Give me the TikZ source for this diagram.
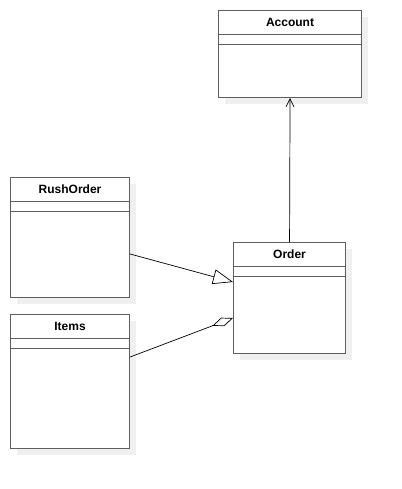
\documentclass[tikz,border=0pt]{standalone}
\usepackage{fontspec}
\setmainfont{Liberation Sans}
\usetikzlibrary{arrows.meta,calc}
\begin{document}
\begin{tikzpicture}[x=1pt,y=-1pt,
  cls/.style={draw=boxgray,line width=1.1pt,fill=white,rectangle,inner sep=0pt,anchor=north west},
  shadowbox/.style={fill=shadowgray,draw=none},
  title/.style={font=\bfseries\fontsize{12}{14}\selectfont,inner sep=0pt},
  conn/.style={draw=black,line width=0.7pt}]
\definecolor{boxgray}{HTML}{5E5E5E}
\definecolor{shadowgray}{HTML}{F0F0F0}
\useasboundingbox (0,0) rectangle (401,489);
% shadows
\fill[shadowgray] (225,17) rectangle (368,104);
\fill[shadowgray] (17,184) rectangle (136,304);
\fill[shadowgray] (17,321) rectangle (136,455);
\fill[shadowgray] (240,249) rectangle (352,360);
% classes
\node[cls,minimum width=143pt,minimum height=87pt] (account) at (218,10) {};
\node[cls,minimum width=119pt,minimum height=120pt] (rush) at (10,177) {};
\node[cls,minimum width=119pt,minimum height=134pt] (items) at (10,314) {};
\node[cls,minimum width=112pt,minimum height=111pt] (order) at (233,242) {};
% compartments
\foreach \n in {account,rush,items,order}{
  \draw[boxgray,line width=1.1pt] ($(\n.north west)+(0,24.5)$) -- ($(\n.north east)+(0,24.5)$);
  \draw[boxgray,line width=1.1pt] ($(\n.north west)+(0,34.5)$) -- ($(\n.north east)+(0,34.5)$);
}
\node[title] (accountT) at ($(account.north)+(0,12.5)$) {Account};
\node[title] (rushT) at ($(rush.north)+(0,12.5)$) {RushOrder};
\node[title] (itemsT) at ($(items.north)+(0,12.5)$) {Items};
\node[title] (orderT) at ($(order.north)+(0,12.5)$) {Order};
% connector endpoints
\coordinate (rushOut) at ($(rush.north east)+(0,77)$);
\coordinate (orderGen) at ($(order.north west)+(0,40)$);
\coordinate (itemsOut) at ($(items.north east)+(0,43)$);
\coordinate (orderAgg) at ($(order.north west)+(0,76)$);
% connectors
\draw[conn,-{Straight Barb[length=8pt,width=8pt]}] (order.north) -- (account.south);
\draw[conn,-{Triangle[open,length=20pt,width=15pt,fill=white]}] (rushOut) -- (orderGen);
\draw[conn,-{Diamond[open,length=22pt,width=9pt,fill=white]}] (itemsOut) -- (orderAgg);
\end{tikzpicture}
\end{document}
